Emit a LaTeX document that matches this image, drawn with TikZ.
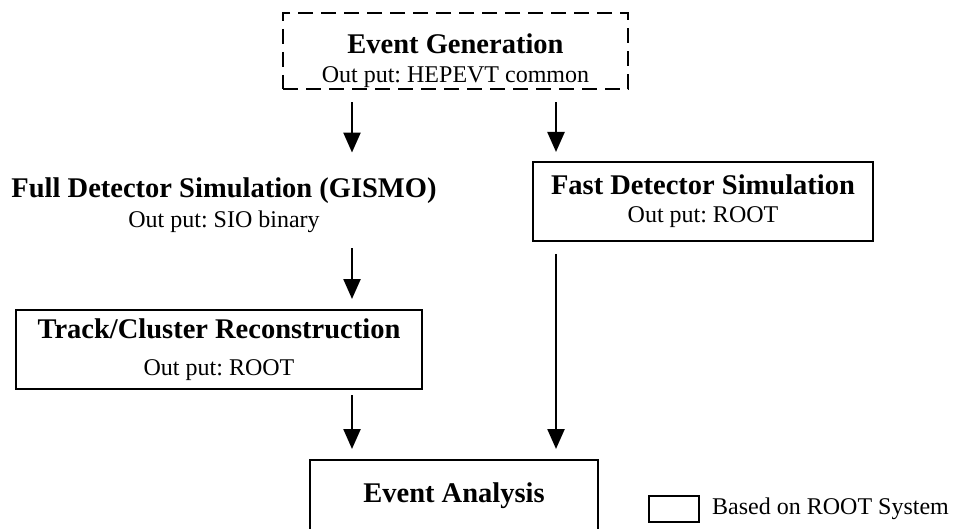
\documentclass[tikz,border=0pt]{standalone}
\usepackage{fontspec}
\setmainfont{Liberation Serif}
\usetikzlibrary{arrows.meta, positioning}
\newcommand{\stagetitle}{\fontsize{28.5}{30}\selectfont\bfseries}
\newcommand{\stageout}{\fontsize{24}{28}\selectfont}
\frenchspacing
\tikzset{
    stagebox/.style={rectangle, draw, line width=2pt, align=center, inner sep=0pt, font=\stageout},
    genbox/.style={stagebox, line width=2.2pt, dash pattern=on 15pt off 8pt},
    flow/.style={-{Triangle[length=20pt, width=17pt]}, line width=2.4pt}
}

\begin{document}
\begin{tikzpicture}[x=1pt, y=-1pt]
    \useasboundingbox (0,0) rectangle (955,529);

    % Event generation (not ROOT based)
    \node[genbox, minimum width=345pt, minimum height=76pt] (gen) at (455.5,51)
        {{\stagetitle\rule{0pt}{40pt}Event Generation}\\[1pt] Out put: HEPEVT common};

    % Simulation chains
    \node[stagebox, draw=none] (full) at (224,205)
        {{\stagetitle Full Detector Simulation (GISMO)}\\[2pt] Out put: SIO binary};
    \node[stagebox, minimum width=340pt, minimum height=79pt] (fast) at (703,201.5)
        {{\stagetitle Fast Detector Simulation}\\ Out put: ROOT};
    \node[stagebox, minimum width=406pt, minimum height=79pt] (track) at (219,349.5)
        {{\stagetitle Track/Cluster Reconstruction}\\[9pt] Out put: ROOT};

    % Analysis
    \node[stagebox, minimum width=288pt, minimum height=71pt] (ana) at (454,495.5)
        {\stagetitle Event Analysis};

    % Legend
    \node[stagebox, minimum width=50pt, minimum height=26pt] (legend) at (674,509) {};
    \node[right=12pt of legend, inner sep=0pt, font=\stageout] (legendtext) {Based on ROOT System};

    % Connections
    \coordinate (colL) at (352,0);
    \coordinate (colR) at (556,0);
    \draw[flow, shorten <=12pt, shorten >=24pt] (gen.south -| colL) -- (full.north -| colL);
    \draw[flow, shorten <=12pt, shorten >=9pt] (gen.south -| colR) -- (fast.north -| colR);
    \draw[flow, shorten <=15pt, shorten >=10pt] (full.south -| colL) -- (track.north -| colL);
    \draw[flow, shorten <=5pt, shorten >=10pt] (track.south -| colL) -- (ana.north -| colL);
    \draw[flow, shorten <=12pt, shorten >=10pt] (fast.south -| colR) -- (ana.north -| colR);
\end{tikzpicture}
\end{document}
